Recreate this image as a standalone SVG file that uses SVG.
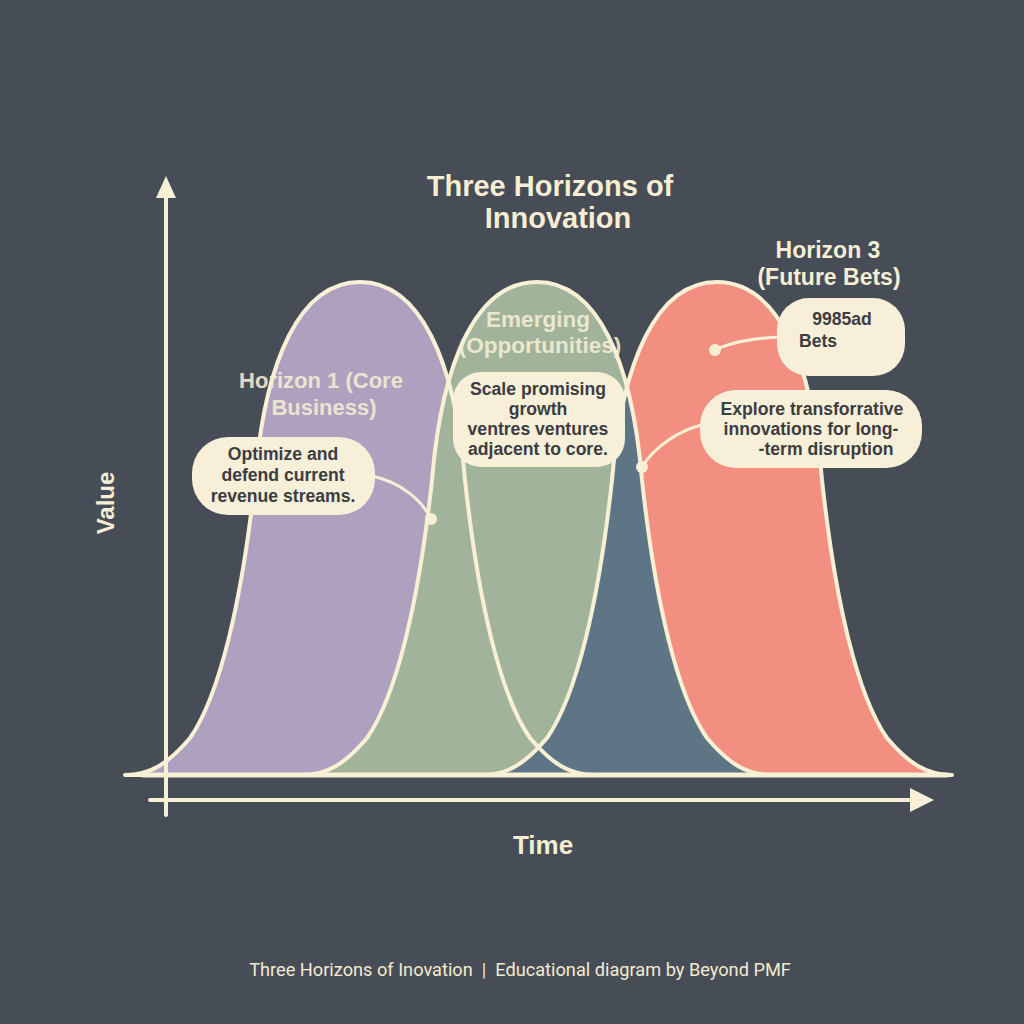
<svg xmlns="http://www.w3.org/2000/svg" width="1024" height="1024" viewBox="0 0 1024 1024">
<style>
.bell{stroke:none}
.out{fill:none;stroke:#f8f0d4;stroke-width:4;stroke-linejoin:round}
.ax{stroke:#f8f0d4;stroke-width:4;fill:none;stroke-linecap:round}
.bub{fill:#f7efd8}
.bt{font-family:"Liberation Sans",Arial,sans-serif;font-weight:700;font-size:17.6px;fill:#3b3d42;text-anchor:middle}
.lbl{font-family:"Liberation Sans",Arial,sans-serif;font-weight:700;fill:#f6eed3;text-anchor:middle}
.con{fill:none;stroke:#f8f0d4;stroke-width:3;stroke-linecap:round}
.dot{fill:#f8f0d4}
</style>
<defs>
<path id="b1" d="M125,775 C150,775 168,764 190,738 C220,695 242,600 255,480 C265,360 300,282 360,282 C420,282 455,360 465,480 C478,600 500,695 530,738 C552,764 570,775 595,775 Z"/>
<path id="b2" d="M302,775 C327,775 345,764 367,738 C397,695 419,600 432,480 C442,360 477,282 537,282 C597,282 632,360 642,480 C655,600 677,695 707,738 C729,764 747,775 772,775 Z"/>
<path id="b3" d="M482,775 C507,775 525,764 547,738 C577,695 599,600 612,480 C622,360 657,282 717,282 C777,282 812,360 822,480 C835,600 857,695 887,738 C909,764 927,775 952,775 Z"/>
<clipPath id="cg"><use href="#b2"/></clipPath>
</defs>
<rect width="1024" height="1024" fill="#474d57"/>

<g id="curves">
<use href="#b1" fill="#ada1bf"/>
<use href="#b2" fill="#a1b39b"/>
<use href="#b3" fill="#f28f80"/>
<use href="#b3" fill="#5e7585" clip-path="url(#cg)"/>
<use href="#b1" class="out"/>
<use href="#b2" class="out"/>
<use href="#b3" class="out"/>
</g>

<g id="axes">
<line class="ax" x1="143" y1="775" x2="947" y2="775" style="stroke-width:5"/>
<line class="ax" x1="166" y1="815" x2="166" y2="192"/>
<polygon points="166,176 156,198 176,198" fill="#f8f0d4"/>
<line class="ax" x1="150" y1="800" x2="918" y2="800"/>
<polygon points="934,800 910,788 910,812" fill="#f8f0d4"/>
<text class="lbl" x="543" y="854" font-size="26">Time</text>
<text class="lbl" font-size="24" transform="translate(114,503) rotate(-90)">Value</text>
</g>

<g id="title">
<text class="lbl" font-size="29" x="550" y="196">Three Horizons of</text>
<text class="lbl" font-size="29" x="558" y="228">Innovation</text>
</g>

<g id="horizon1-label" opacity="0.88">
<text class="lbl" font-size="22" x="321" y="388">Horizon 1 (Core</text>
<text class="lbl" font-size="22" x="324" y="415">Business)</text>
</g>
<g id="horizon2-label" opacity="0.88">
<text class="lbl" font-size="22.5" x="538" y="327">Emerging</text>
<text class="lbl" font-size="22.5" x="540" y="353">(Opportunities)</text>
</g>
<g id="horizon3-label">
<text class="lbl" font-size="23" x="828" y="258">Horizon 3</text>
<text class="lbl" font-size="23" x="829" y="285">(Future Bets)</text>
</g>

<g id="connectors">
<path class="con" d="M372,476 C400,482 422,500 431,519"/>
<circle class="dot" cx="431" cy="519" r="6"/>
<path class="con" d="M780,337 C760,338 735,340 715,350"/>
<circle class="dot" cx="715" cy="350" r="6"/>
<path class="con" d="M702,425 C680,430 655,446 642,467"/>
<circle class="dot" cx="642" cy="467" r="6"/>
</g>

<g id="bubble1">
<rect class="bub" x="192" y="437" width="183" height="78" rx="36"/>
<text class="bt" x="283" y="460">Optimize and</text>
<text class="bt" x="283" y="481">defend current</text>
<text class="bt" x="283" y="502">revenue streams.</text>
</g>
<g id="bubble2">
<rect class="bub" x="453" y="372" width="172" height="95" rx="28"/>
<text class="bt" x="538" y="395">Scale promising</text>
<text class="bt" x="538" y="415">growth</text>
<text class="bt" x="538" y="435">ventres ventures</text>
<text class="bt" x="538" y="455">adjacent to core.</text>
</g>
<g id="bubble3">
<rect class="bub" x="777" y="298" width="128" height="78" rx="32"/>
<text class="bt" x="842" y="325">9985ad</text>
<text class="bt" x="818" y="347">Bets</text>
</g>
<g id="bubble4">
<rect class="bub" x="700" y="390" width="222" height="78" rx="36"/>
<text class="bt" x="812" y="415">Explore transforrative</text>
<text class="bt" x="811" y="435">innovations for long-</text>
<text class="bt" x="826" y="455">-term disruption</text>
</g>

<text id="footer" x="520" y="976" font-family="Roboto,'Liberation Sans',sans-serif" font-size="18.2" fill="#f3ead0" text-anchor="middle">Three Horizons of Inovation&#160;&#160;|&#160;&#160;Educational diagram by Beyond PMF</text>
</svg>
